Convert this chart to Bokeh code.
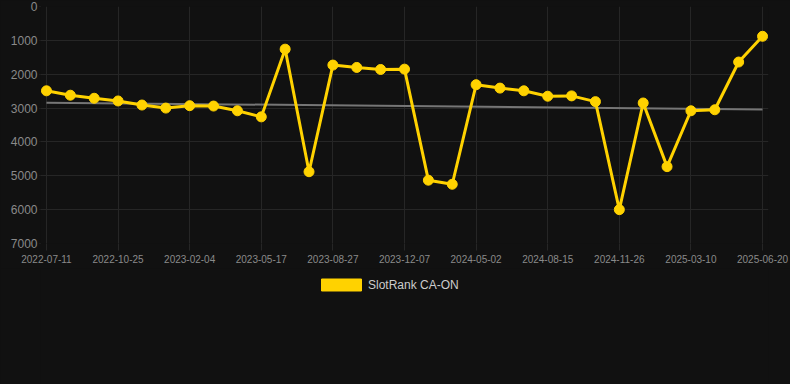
from bokeh.plotting import figure
from bokeh.layouts import column
from bokeh.models import Range1d, FixedTicker, Legend, LegendItem, ColumnDataSource
from bokeh.embed import file_html
from bokeh.resources import INLINE

# ---- data ----
tick_labels = ["2022-07-11", "2022-10-25", "2023-02-04", "2023-05-17", "2023-08-27",
               "2023-12-07", "2024-05-02", "2024-08-15", "2024-11-26", "2025-03-10",
               "2025-06-20"]
label_every = 3
rank_values = [2490, 2620, 2710, 2790, 2910, 3000, 2930, 2940, 3080, 3260,
               1260, 4880, 1730, 1800, 1860, 1850, 5130, 5250, 2310, 2410,
               2490, 2650, 2640, 2810, 6000, 2850, 4730, 3080, 3050, 1640, 880]
trend_values = [2840, 3040]
y_ticks = [0, 1000, 2000, 3000, 4000, 5000, 6000, 7000]
series_name = "SlotRank CA-ON"

BG = "#111111"
GRID = "#262626"
GOLD = "#ffd200"
FONT = "Liberation Sans"

n = len(rank_values)
xs = list(range(n))
src = ColumnDataSource(dict(x=xs, y=rank_values))

pad = 0.25  # a little room so the end markers are not cut by the frame
p = figure(width=790, height=268, output_backend="svg", toolbar_location=None,
           x_range=Range1d(-pad, n - 1 + pad), y_range=Range1d(y_ticks[-1], y_ticks[0]),
           min_border_left=40, min_border_right=22, min_border_top=6, min_border_bottom=25)
p.background_fill_color = BG
p.border_fill_color = BG
p.outline_line_color = None

# axes
tick_pos = xs[::label_every]
p.xaxis.ticker = FixedTicker(ticks=tick_pos)
p.xaxis.major_label_overrides = {i: lab for i, lab in zip(tick_pos, tick_labels)}
p.yaxis.ticker = FixedTicker(ticks=y_ticks)
for ax in (p.xaxis, p.yaxis):
    ax.axis_line_color = None
    ax.major_tick_line_color = GRID
    ax.major_tick_in = 0
    ax.minor_tick_line_color = None
    ax.major_label_text_color = "#8a8a8a"
    ax.major_label_text_font = FONT
p.xaxis.major_tick_out = 7
p.yaxis.major_tick_out = 1
p.xaxis.major_label_text_font_size = "10px"
p.xaxis.major_label_standoff = 4
p.yaxis.major_label_text_font_size = "12px"
p.yaxis.major_label_standoff = 2
p.xgrid.grid_line_color = GRID
p.ygrid.grid_line_color = GRID

# trend line
p.line(x=[xs[0], xs[-1]], y=trend_values, line_color="#767676", line_width=2)

# series
p.line("x", "y", source=src, line_color=GOLD, line_width=3)
p.scatter("x", "y", source=src, size=10, fill_color=GOLD, line_color=GOLD)

# ---- legend strip below the chart (same side borders so frames align) ----
lg = figure(width=790, height=116, output_backend="svg", toolbar_location=None,
            x_range=Range1d(0, 1), y_range=Range1d(0, 1),
            x_axis_location=None, y_axis_location=None,
            min_border_left=40, min_border_right=22, min_border_top=0, min_border_bottom=0)
lg.background_fill_color = BG
lg.border_fill_color = BG
lg.outline_line_color = None
lg.xgrid.visible = False
lg.ygrid.visible = False
lg.xgrid.grid_line_color = None
lg.ygrid.grid_line_color = None
sw = lg.quad(left=[-3], right=[-2], top=[-2], bottom=[-3], fill_color=GOLD, line_color=GOLD)
legend = Legend(items=[LegendItem(label=series_name, renderers=[sw])],
                location=(276, 92), orientation="horizontal",
                glyph_width=50, glyph_height=15, label_height=15, label_standoff=2,
                padding=8, margin=0, spacing=0,
                label_text_font=FONT, label_text_font_size="12px", label_text_color="#cccccc",
                background_fill_alpha=0, border_line_color=None)
lg.add_layout(legend, "center")

page = column(p, lg, spacing=0, styles={"background-color": BG})
open("out.html", "w").write(file_html(page, INLINE))
